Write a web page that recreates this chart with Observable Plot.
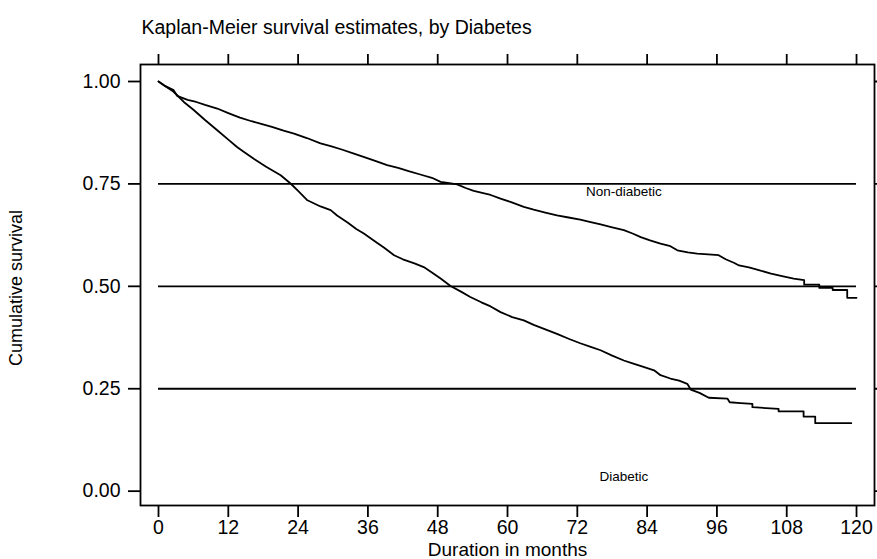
<!DOCTYPE html>
<html>
<head>
<meta charset="utf-8">
<script src="https://cdn.jsdelivr.net/npm/d3@7"></script>
<script src="https://cdn.jsdelivr.net/npm/@observablehq/plot@0.6"></script>
<style>
  body { margin: 0; background: #fff; }
  svg { display: block; }
</style>
</head>
<body>
<div id="chart"></div>
<script>
const titleText = "Kaplan-Meier survival estimates, by Diabetes";
const xLabel = "Duration in months";
const yLabel = "Cumulative survival";
const xTicks = [0, 12, 24, 36, 48, 60, 72, 84, 96, 108, 120];
const yTicks = [0, 0.25, 0.5, 0.75, 1];
const refLevels = [0.25, 0.5, 0.75];

// Kaplan-Meier estimates (repeated times mark visible drops)
const nonDiabeticTime = [0, 1, 2.6, 3.2, 5, 6.5, 8, 10.1, 12, 14, 16, 17.5, 19.5, 21.5, 23.3, 25.5, 27.85, 29.6, 31.5, 33.6, 35.5, 37.5, 39.3, 41.2, 43, 45, 47, 48.5, 50, 51.35, 52.8, 54.2, 56, 57.1, 58.8, 60.5, 62.8, 64.5, 66.5, 68.5, 70.5, 72.5, 74.3, 76, 78, 80, 81.5, 82.9, 84.5, 86.3, 88, 89.2, 91, 92.6, 94.5, 96.3, 97.5, 99, 99.8, 101.5, 102.9, 105.3, 107.2, 109.2, 111, 111, 113.6, 113.6, 115.9, 115.9, 118.4, 118.4, 120];
const nonDiabeticSurv = [1, 0.99, 0.979, 0.965, 0.955, 0.95, 0.943, 0.934, 0.923, 0.912, 0.903, 0.897, 0.889, 0.88, 0.873, 0.862, 0.849, 0.842, 0.834, 0.824, 0.815, 0.805, 0.796, 0.789, 0.781, 0.773, 0.765, 0.755, 0.752, 0.749, 0.74, 0.733, 0.727, 0.723, 0.714, 0.706, 0.694, 0.687, 0.68, 0.673, 0.668, 0.663, 0.657, 0.651, 0.644, 0.637, 0.629, 0.62, 0.612, 0.604, 0.598, 0.588, 0.583, 0.58, 0.578, 0.576, 0.566, 0.557, 0.551, 0.546, 0.541, 0.531, 0.525, 0.519, 0.515, 0.504, 0.504, 0.496, 0.496, 0.491, 0.491, 0.472, 0.472];

const diabeticTime = [0, 1, 2.6, 4.35, 6, 8, 10.1, 12, 13.5, 14.7, 16.5, 18.5, 21, 22.7, 24, 25.6, 27.85, 29.6, 30.7, 32.5, 34, 35.3, 37, 38.8, 40.5, 42, 44, 45.6, 47, 48.5, 50.2, 52, 53.6, 55.5, 57.1, 58.8, 60.8, 62.8, 64.5, 66.5, 68.5, 70.5, 72.5, 74.3, 76, 78, 80, 81.5, 83.5, 85.2, 86.3, 88, 89.5, 90.9, 91.5, 93, 94.6, 97.8, 98.2, 100.1, 102.1, 102.1, 106.6, 106.6, 110.9, 110.9, 112.9, 112.9, 119.1];
const diabeticSurv = [1, 0.99, 0.975, 0.95, 0.931, 0.906, 0.881, 0.858, 0.84, 0.828, 0.81, 0.792, 0.771, 0.751, 0.733, 0.71, 0.695, 0.686, 0.673, 0.656, 0.64, 0.629, 0.612, 0.594, 0.576, 0.566, 0.556, 0.547, 0.534, 0.519, 0.501, 0.487, 0.474, 0.461, 0.451, 0.437, 0.425, 0.417, 0.406, 0.395, 0.384, 0.372, 0.361, 0.352, 0.344, 0.331, 0.319, 0.312, 0.303, 0.295, 0.283, 0.275, 0.27, 0.262, 0.248, 0.24, 0.228, 0.226, 0.217, 0.215, 0.213, 0.205, 0.201, 0.195, 0.195, 0.182, 0.182, 0.166, 0.166];

const groupLabels = ["Non-diabetic", "Diabetic"];
const labelTime = [80, 80];
const labelSurv = [0.73, 0.036];

const nonDiabetic = nonDiabeticTime.map((t, i) => ({t, s: nonDiabeticSurv[i]}));
const diabetic = diabeticTime.map((t, i) => ({t, s: diabeticSurv[i]}));
const labels = groupLabels.map((name, i) => ({name, t: labelTime[i], s: labelSurv[i]}));

const SW = 1.8;
const chart = Plot.plot({
  width: 877,
  height: 559,
  marginLeft: 140,
  marginRight: 3,
  marginTop: 64,
  marginBottom: 54,
  style: {fontFamily: "'Liberation Sans', Arial, sans-serif", fontSize: "19px", color: "black", background: "white"},
  x: {domain: [-3.095, 123.09]},
  y: {domain: [-0.035, 1.0415]},
  marks: [
    Plot.ruleY(refLevels, {x1: 0, x2: 120, stroke: "black", strokeWidth: SW}),
    Plot.line(nonDiabetic, {x: "t", y: "s", curve: "linear", stroke: "black", strokeWidth: SW}),
    Plot.line(diabetic, {x: "t", y: "s", curve: "linear", stroke: "black", strokeWidth: SW}),
    Plot.frame({stroke: "black", strokeWidth: SW}),
    Plot.axisX({ticks: xTicks, anchor: "bottom", tickSize: 12, tickPadding: 3, fontSize: 19.5, strokeWidth: SW, label: null}),
    Plot.axisX({ticks: xTicks, anchor: "top", tickSize: 11, tickFormat: () => "", strokeWidth: SW, label: null}),
    Plot.axisY({ticks: yTicks, anchor: "left", tickSize: 12, tickPadding: 8, fontSize: 19.5, tickFormat: d3.format(".2f"), strokeWidth: SW, label: null}),
    Plot.axisY({ticks: yTicks, anchor: "right", tickSize: 12, tickFormat: () => "", strokeWidth: SW, label: null}),
    Plot.text(labels, {x: "t", y: "s", text: "name", fontSize: 13.5}),
    Plot.text([titleText], {frameAnchor: "top-left", dx: 1, dy: -30.6, lineAnchor: "bottom", textAnchor: "start", fontSize: 19.5}),
    Plot.text([xLabel], {frameAnchor: "bottom", dy: 44, lineAnchor: "middle", fontSize: 19}),
    Plot.text([yLabel], {frameAnchor: "left", dx: -124, dy: 3, rotate: -90, textAnchor: "middle", lineAnchor: "middle", fontSize: 18})
  ]
});
document.getElementById("chart").appendChild(chart);
</script>
</body>
</html>
